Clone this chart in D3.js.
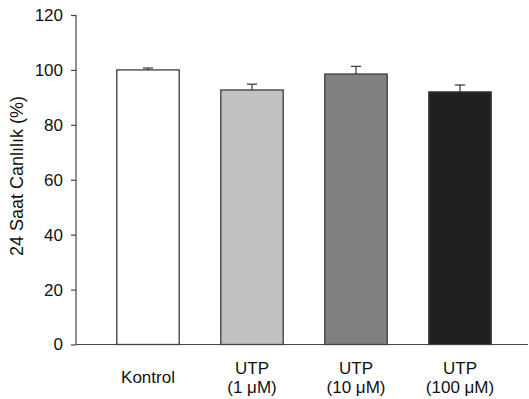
<!DOCTYPE html>
<html>
<head>
<meta charset="utf-8">
<script src="https://cdn.jsdelivr.net/npm/d3@7"></script>
<style>
  body { margin: 0; background: #fff; }
  text { font-family: "Liberation Sans", Arial, sans-serif; fill: #111; }
</style>
</head>
<body>
<svg id="chart" width="529" height="399"></svg>
<script>
// data
const groups = ["Kontrol", "UTP (1 μM)", "UTP (10 μM)", "UTP (100 μM)"];
const labelLines = [["Kontrol"], ["UTP", "(1 μM)"], ["UTP", "(10 μM)"], ["UTP", "(100 μM)"]];
const means = [100, 92.7, 98.5, 92.0];
const errors = [0.7, 2.1, 2.8, 2.5];
const fills = ["#ffffff", "#c2c2c2", "#808080", "#202020"];
const yTicks = [0, 20, 40, 60, 80, 100, 120];

const svg = d3.select("#chart");
const axisX0 = 76, axisX1 = 528, y0 = 344.5, yTop = 15;

const x = d3.scaleBand()
  .domain(groups)
  .range([96, 512])
  .paddingInner(0.4)
  .paddingOuter(0.2);
const y = d3.scaleLinear().domain([0, 120]).range([y0, yTop]);

// bars
svg.selectAll("rect.bar")
  .data(groups)
  .enter()
  .append("rect")
  .attr("class", "bar")
  .attr("x", d => x(d))
  .attr("width", x.bandwidth())
  .attr("y", (d, i) => y(means[i]))
  .attr("height", (d, i) => y(0) - y(means[i]))
  .attr("fill", (d, i) => fills[i])
  .attr("stroke", "#3a3a3a")
  .attr("stroke-width", 1.3);

// error bars (upper only)
const err = svg.selectAll("g.err").data(groups).enter().append("g").attr("class", "err");
err.append("line")
  .attr("x1", d => x(d) + x.bandwidth() / 2)
  .attr("x2", d => x(d) + x.bandwidth() / 2)
  .attr("y1", (d, i) => y(means[i]))
  .attr("y2", (d, i) => y(means[i] + errors[i]))
  .attr("stroke", "#333").attr("stroke-width", 1.2);
err.append("line")
  .attr("x1", d => x(d) + x.bandwidth() / 2 - 5)
  .attr("x2", d => x(d) + x.bandwidth() / 2 + 5)
  .attr("y1", (d, i) => y(means[i] + errors[i]))
  .attr("y2", (d, i) => y(means[i] + errors[i]))
  .attr("stroke", "#333").attr("stroke-width", 1.2);

// y axis
const yAxis = svg.append("g")
  .attr("transform", "translate(" + axisX0 + ",0)")
  .call(d3.axisLeft(y).tickValues(yTicks).tickSize(5).tickPadding(8));
yAxis.select(".domain").attr("stroke", "#444").attr("stroke-width", 1.2)
  .attr("d", "M0," + yTop + "V" + y0);
yAxis.selectAll(".tick line").attr("stroke", "#444").attr("stroke-width", 1.2);
yAxis.selectAll(".tick text").style("font-size", "17px").attr("fill", "#111")
  .style("font-family", "'Liberation Sans', Arial, sans-serif");

// x axis line
svg.append("line")
  .attr("x1", axisX0).attr("x2", axisX1)
  .attr("y1", y0).attr("y2", y0)
  .attr("stroke", "#444").attr("stroke-width", 1.2);

// x labels
const xl = svg.selectAll("text.xlab")
  .data(groups)
  .enter()
  .append("text")
  .attr("class", "xlab")
  .attr("text-anchor", "middle")
  .style("font-size", "17px")
  .attr("transform", d => "translate(" + (x(d) + x.bandwidth() / 2) + ",0)");
xl.each(function(d, i) {
  const lines = labelLines[i];
  const base = lines.length === 1 ? 383 : 374;
  lines.forEach((t, j) => {
    d3.select(this).append("tspan").attr("x", 0).attr("y", base + j * 19).text(t);
  });
});

// y label
svg.append("text")
  .attr("transform", "translate(23,176) rotate(-90)")
  .attr("text-anchor", "middle")
  .style("font-size", "18px")
  .text("24 Saat Canlılık (%)");
</script>
</body>
</html>
